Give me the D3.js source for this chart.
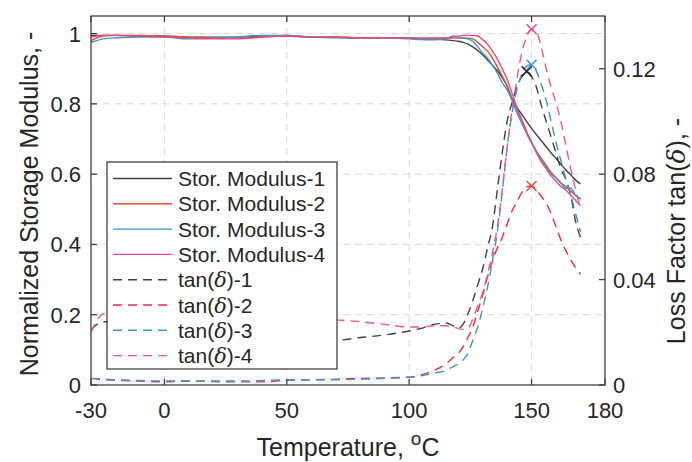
<!DOCTYPE html>
<html>
<head>
<meta charset="utf-8">
<script src="https://cdn.jsdelivr.net/npm/d3@7"></script>
<style>
    body { margin: 0; background: #fff; }
    svg { font-family: "Liberation Sans", Arial, Helvetica, sans-serif; }
    .grid line { stroke: #d9d9d9; stroke-width: 1; stroke-dasharray: 7,5; }
    .tick-label { fill: #262626; font-size: 22px; }
    .axis-label { fill: #262626; font-size: 25px; }
    .legend-text { fill: #262626; font-size: 21px; }
</style>
</head>
<body>
<svg id="chart" width="692" height="462"></svg>
<script>
const temperature = [-30, -25, -20, -10, 0, 10, 20, 30, 40, 50, 60, 70, 80, 90, 100, 105, 110, 115, 118, 120,
    122, 124, 126, 128, 130, 132, 134, 136, 138, 140, 142, 144, 146, 148, 150, 152, 154, 156, 158, 160,
    162, 164, 166, 168, 170];

// normalized storage modulus (left axis)
const modulus1 = [0.995, 0.995, 0.995, 0.993, 0.993, 0.99, 0.99, 0.99, 0.993, 0.993, 0.99, 0.99, 0.988, 0.988, 0.987,
    0.985, 0.985, 0.982, 0.98, 0.978, 0.975, 0.97, 0.962, 0.952, 0.94, 0.925, 0.91, 0.895, 0.875, 0.85,
    0.815, 0.79, 0.77, 0.75, 0.73, 0.712, 0.695, 0.678, 0.66, 0.645, 0.628, 0.612, 0.598, 0.583, 0.572];
const modulus2 = [0.98, 0.993, 0.995, 0.995, 0.992, 0.99, 0.988, 0.987, 0.99, 0.995, 0.99, 0.99, 0.988, 0.988, 0.987,
    0.987, 0.987, 0.987, 0.987, 0.987, 0.987, 0.987, 0.985, 0.975, 0.963, 0.95, 0.93, 0.905, 0.88, 0.85,
    0.815, 0.785, 0.755, 0.72, 0.69, 0.665, 0.645, 0.625, 0.605, 0.59, 0.575, 0.565, 0.552, 0.54, 0.528];
const modulus3 = [0.975, 0.985, 0.988, 0.99, 0.99, 0.985, 0.987, 0.99, 0.995, 0.995, 0.99, 0.988, 0.987, 0.987, 0.985,
    0.983, 0.982, 0.985, 0.993, 0.99, 0.988, 0.985, 0.978, 0.963, 0.944, 0.93, 0.91, 0.888, 0.86, 0.84,
    0.81, 0.775, 0.745, 0.715, 0.688, 0.665, 0.64, 0.62, 0.6, 0.59, 0.575, 0.56, 0.56, 0.54, 0.53];
const modulus4 = [0.99, 0.995, 0.995, 0.993, 0.99, 0.987, 0.985, 0.985, 0.99, 0.993, 0.99, 0.99, 0.988, 0.988, 0.987,
    0.987, 0.987, 0.988, 0.99, 0.993, 0.995, 0.995, 0.995, 0.993, 0.983, 0.97, 0.95, 0.928, 0.9, 0.87,
    0.83, 0.79, 0.755, 0.72, 0.69, 0.66, 0.635, 0.615, 0.595, 0.58, 0.565, 0.555, 0.54, 0.525, 0.51];

// loss factor tan(delta) (right axis)
const tan1 = [0.021, 0.024, 0.024, 0.023, 0.022, 0.021, 0.02, 0.019, 0.018, 0.0175, 0.017, 0.017, 0.018, 0.019, 0.0205,
    0.0215, 0.023, 0.0235, 0.0225, 0.0215, 0.023, 0.027, 0.032, 0.038, 0.044, 0.052, 0.06, 0.074, 0.088, 0.1,
    0.107, 0.113, 0.117, 0.119, 0.117, 0.113, 0.106, 0.1, 0.094, 0.088, 0.082, 0.078, 0.072, 0.062, 0.056];
const tan2 = [0.0025, 0.002, 0.0018, 0.0015, 0.0012, 0.0015, 0.0013, 0.0012, 0.0012, 0.0018, 0.002, 0.0022, 0.0025, 0.0027, 0.003,
    0.0038, 0.0055, 0.008, 0.0105, 0.012, 0.0145, 0.018, 0.022, 0.028, 0.034, 0.041, 0.047, 0.052, 0.056, 0.061,
    0.066, 0.0695, 0.073, 0.0752, 0.0755, 0.074, 0.0715, 0.069, 0.065, 0.06, 0.055, 0.051, 0.0475, 0.0445, 0.042];
const tan3 = [0.0025, 0.0023, 0.002, 0.0017, 0.0015, 0.0015, 0.0015, 0.0015, 0.0017, 0.002, 0.002, 0.002, 0.0022, 0.0025, 0.003,
    0.0035, 0.0045, 0.0055, 0.007, 0.008, 0.0095, 0.012, 0.017, 0.022, 0.029, 0.037, 0.047, 0.058, 0.073, 0.09,
    0.103, 0.112, 0.118, 0.121, 0.1215, 0.119, 0.114, 0.108, 0.1, 0.092, 0.085, 0.078, 0.072, 0.065, 0.058];
const tan4 = [0.02, 0.027, 0.0275, 0.027, 0.0265, 0.026, 0.026, 0.0255, 0.025, 0.025, 0.025, 0.0247, 0.024, 0.023, 0.022,
    0.022, 0.0225, 0.0225, 0.022, 0.0215, 0.021, 0.0215, 0.025, 0.03, 0.035, 0.042, 0.05, 0.06, 0.074, 0.09,
    0.104, 0.116, 0.126, 0.132, 0.135, 0.134, 0.128, 0.12, 0.113, 0.107, 0.1, 0.091, 0.082, 0.074, 0.067];

const xTicks = [-30, 0, 50, 100, 150, 180];
const yLeftTicks = [0, 0.2, 0.4, 0.6, 0.8, 1];
const yRightTicks = [0, 0.04, 0.08, 0.12];

const series = [
    {name: 'Stor. Modulus-1', values: modulus1, axis: 'left', color: '#404040', dashed: false},
    {name: 'Stor. Modulus-2', values: modulus2, axis: 'left', color: '#e0522f', dashed: false},
    {name: 'Stor. Modulus-3', values: modulus3, axis: 'left', color: '#3595d6', dashed: false},
    {name: 'Stor. Modulus-4', values: modulus4, axis: 'left', color: '#f0477f', dashed: false},
    {name: 'tan(δ)-1', values: tan1, axis: 'right', color: '#404040', dashed: true, mark: '#262626'},
    {name: 'tan(δ)-2', values: tan2, axis: 'right', color: '#f5283c', dashed: true, mark: '#e0522f'},
    {name: 'tan(δ)-3', values: tan3, axis: 'right', color: '#3595d6', dashed: true, mark: '#3595d6'},
    {name: 'tan(δ)-4', values: tan4, axis: 'right', color: '#f2558c', dashed: true, mark: '#f0477f'},
];

const M = {left: 91, right: 605, top: 16, bottom: 385};
const TICK = 6;
const DASH = '9,6';

const x = d3.scaleLinear().domain([-30, 180]).range([M.left, M.right]);
const yL = d3.scaleLinear().domain([0, 1.05]).range([M.bottom, M.top]);
const yR = d3.scaleLinear().domain([0, 0.14]).range([M.bottom, M.top]);

const svg = d3.select('#chart');

// grid
const grid = svg.append('g').classed('grid', true);
grid.selectAll('line.gx')
    .data(xTicks.filter(t => t > -30 && t < 180))
    .enter()
    .append('line')
    .attr('x1', d => x(d)).attr('x2', d => x(d))
    .attr('y1', M.top).attr('y2', M.bottom);
grid.selectAll('line.gy')
    .data(yLeftTicks.filter(t => t > 0))
    .enter()
    .append('line')
    .attr('x1', M.left).attr('x2', M.right)
    .attr('y1', d => yL(d)).attr('y2', d => yL(d));

// data
svg.append('clipPath').attr('id', 'clip')
    .append('rect')
    .attr('x', M.left).attr('y', M.top)
    .attr('width', M.right - M.left).attr('height', M.bottom - M.top);

const plot = svg.append('g').attr('clip-path', 'url(#clip)');

const lineFor = s => d3.line()
    .x((d, i) => x(temperature[i]))
    .y(d => (s.axis === 'left' ? yL : yR)(d))
    .curve(d3.curveMonotoneX);

// dashed first so the solid moduli sit on top
const drawOrder = series.filter(s => s.dashed).concat(series.filter(s => !s.dashed));
plot.selectAll('path.series')
    .data(drawOrder)
    .enter()
    .append('path')
    .classed('series', true)
    .attr('fill', 'none')
    .attr('stroke', s => s.color)
    .attr('stroke-width', 1.4)
    .attr('stroke-dasharray', s => s.dashed ? DASH : null)
    .attr('d', s => lineFor(s)(s.values));

// peak markers on tan(delta)
const peaks = series.filter(s => s.dashed).map(s => {
    const i = d3.maxIndex(s.values);
    return {t: temperature[i], v: s.values[i], color: s.mark};
});
const R = 5;
plot.selectAll('path.peak')
    .data(peaks)
    .enter()
    .append('path')
    .classed('peak', true)
    .attr('fill', 'none')
    .attr('stroke', d => d.color)
    .attr('stroke-width', 1.5)
    .attr('d', d => {
        const cx = x(d.t), cy = yR(d.v);
        return `M${cx - R},${cy - R}L${cx + R},${cy + R}M${cx - R},${cy + R}L${cx + R},${cy - R}`;
    });

// box and ticks
const frame = svg.append('g').attr('stroke', '#404040').attr('stroke-width', 1.3);
frame.append('rect')
    .attr('x', M.left).attr('y', M.top)
    .attr('width', M.right - M.left).attr('height', M.bottom - M.top)
    .attr('fill', 'none');

frame.selectAll('line.xt-bottom')
    .data(xTicks)
    .enter()
    .append('line')
    .attr('x1', d => x(d)).attr('x2', d => x(d))
    .attr('y1', M.bottom).attr('y2', M.bottom - TICK);
frame.selectAll('line.xt-top')
    .data(xTicks)
    .enter()
    .append('line')
    .attr('x1', d => x(d)).attr('x2', d => x(d))
    .attr('y1', M.top).attr('y2', M.top + TICK);
frame.selectAll('line.yl')
    .data(yLeftTicks)
    .enter()
    .append('line')
    .attr('x1', M.left).attr('x2', M.left + TICK)
    .attr('y1', d => yL(d)).attr('y2', d => yL(d));
frame.selectAll('line.yr')
    .data(yRightTicks)
    .enter()
    .append('line')
    .attr('x1', M.right).attr('x2', M.right - TICK)
    .attr('y1', d => yR(d)).attr('y2', d => yR(d));

// tick labels
svg.selectAll('text.xl')
    .data(xTicks)
    .enter()
    .append('text')
    .classed('tick-label', true)
    .attr('x', d => x(d))
    .attr('y', 418)
    .attr('text-anchor', 'middle')
    .text(d => d);
svg.selectAll('text.yll')
    .data(yLeftTicks)
    .enter()
    .append('text')
    .classed('tick-label', true)
    .attr('x', M.left - 10)
    .attr('y', d => yL(d) + 8)
    .attr('text-anchor', 'end')
    .text(d => d);
svg.selectAll('text.yrl')
    .data(yRightTicks)
    .enter()
    .append('text')
    .classed('tick-label', true)
    .attr('x', M.right + 8)
    .attr('y', d => yR(d) + 8)
    .attr('text-anchor', 'start')
    .text(d => d);

// axis labels
const xLabel = svg.append('text')
    .classed('axis-label', true)
    .attr('font-size', 26)
    .attr('x', (M.left + M.right) / 2)
    .attr('y', 456)
    .attr('text-anchor', 'middle');
xLabel.append('tspan').text('Temperature, ');
xLabel.append('tspan').attr('dy', -11).attr('font-size', 19).text('o');
xLabel.append('tspan').attr('dy', 11).text('C');

svg.append('text')
    .classed('axis-label', true)
    .attr('transform', 'translate(38, 204) rotate(-90)')
    .attr('text-anchor', 'middle')
    .text('Normalized Storage Modulus, -');

const rLabel = svg.append('text')
    .classed('axis-label', true)
    .attr('transform', 'translate(685, 231) rotate(-90)')
    .attr('text-anchor', 'middle');
rLabel.append('tspan').text('Loss Factor tan(');
rLabel.append('tspan').attr('font-style', 'italic').attr('font-family', '"DejaVu Serif", serif').text('δ');
rLabel.append('tspan').text('), -');

// legend
const legend = svg.append('g');
legend.append('rect')
    .attr('x', 107).attr('y', 162)
    .attr('width', 230).attr('height', 207)
    .attr('fill', '#fff')
    .attr('stroke', '#404040')
    .attr('stroke-width', 1.3);

const rowY = i => 178.5 + i * 25.3;
legend.selectAll('line.sample')
    .data(series)
    .enter()
    .append('line')
    .attr('x1', 113).attr('x2', 172)
    .attr('y1', (d, i) => rowY(i)).attr('y2', (d, i) => rowY(i))
    .attr('stroke', d => d.color)
    .attr('stroke-width', 1.4)
    .attr('stroke-dasharray', d => d.dashed ? DASH : null);

legend.selectAll('text.legend-text')
    .data(series)
    .enter()
    .append('text')
    .classed('legend-text', true)
    .attr('x', 178)
    .attr('y', (d, i) => rowY(i) + 7.5)
    .each(function (d) {
        const t = d3.select(this);
        const parts = d.name.split('δ');
        if (parts.length === 1) {
            t.text(d.name);
        } else {
            t.append('tspan').text(parts[0]);
            t.append('tspan').attr('font-style', 'italic').attr('font-family', '"DejaVu Serif", serif').text('δ');
            t.append('tspan').text(parts[1]);
        }
    });
</script>
</body>
</html>
